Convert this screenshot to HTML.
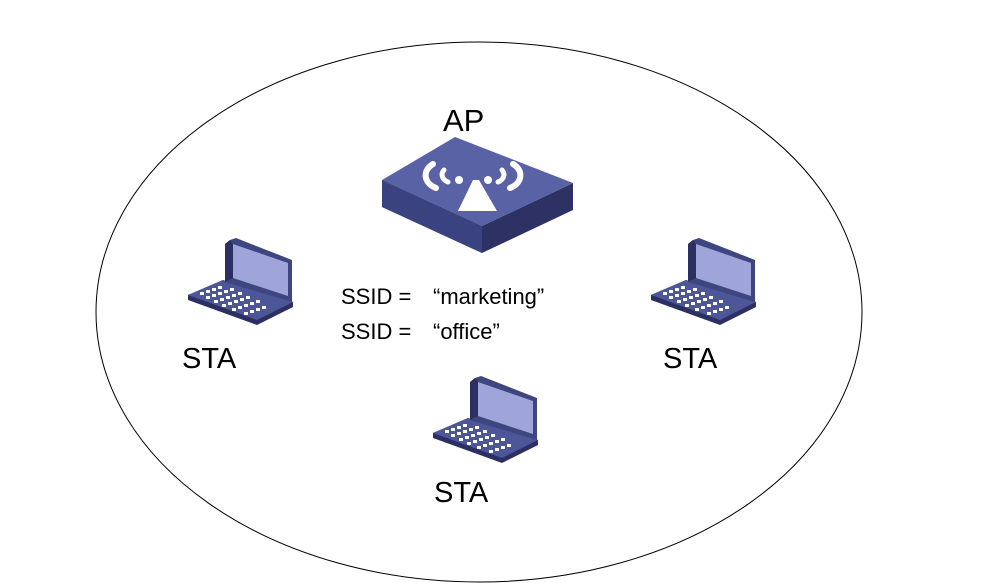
<!DOCTYPE html>
<html><head><meta charset="utf-8"><style>
html,body{margin:0;padding:0;background:#fff;width:991px;height:588px;overflow:hidden}
svg{display:block}
text{font-family:"Liberation Sans",Arial,sans-serif;fill:#000}
</style></head><body>
<svg width="991" height="588" viewBox="0 0 991 588">
<defs>
<g id="lap">
  <polygon points="8,65 43,50 113,72 113,77 77,95 8,70" fill="#2b2f62"/>
  <polygon points="8,65 43,50 113,72 77,90" fill="#4d5699"/>
  <polygon points="50,10 56,8 112,30 112,72 45,52 45,14" fill="#3e467f"/>
  <polygon points="53,14 108,33 108,66 53,48" fill="#9fa5d9"/>
  <polygon points="50,10 53,14 53,48 45,52 45,14" fill="#2b2f62"/>
  <g fill="#fff">
    <rect x="20" y="62" width="4" height="3"/><rect x="26" y="60" width="4" height="3"/><rect x="32" y="58" width="4" height="3"/><rect x="38" y="56" width="4" height="3"/>
    <rect x="26" y="66" width="4" height="3"/><rect x="32" y="64" width="4" height="3"/><rect x="38" y="62" width="4" height="3"/><rect x="44" y="60" width="4" height="3"/><rect x="50" y="58" width="4" height="3"/>
    <rect x="34" y="70" width="4" height="3"/><rect x="40" y="68" width="4" height="3"/><rect x="46" y="66" width="4" height="3"/><rect x="52" y="64" width="4" height="3"/><rect x="58" y="62" width="4" height="3"/>
    <rect x="42" y="74" width="4" height="3"/><rect x="48" y="72" width="4" height="3"/><rect x="54" y="70" width="4" height="3"/><rect x="60" y="68" width="4" height="3"/><rect x="66" y="66" width="4" height="3"/>
    <rect x="52" y="78" width="4" height="3"/><rect x="58" y="76" width="4" height="3"/><rect x="64" y="74" width="4" height="3"/><rect x="70" y="72" width="4" height="3"/><rect x="76" y="70" width="4" height="3"/>
    <rect x="64" y="82" width="4" height="3"/><rect x="70" y="80" width="4" height="3"/><rect x="76" y="78" width="4" height="3"/><rect x="82" y="76" width="4" height="3"/>
  </g>
</g>
</defs>
<ellipse cx="479" cy="312" rx="383" ry="270" fill="none" stroke="#000" stroke-width="1"/>
<polygon points="382,180 482,226 573,183 573,210 482,253 382,207" fill="#2d3163"/>
<polygon points="382,180 482,226 482,253 382,207" fill="#3b4280"/>
<polygon points="382,180 455,137 573,183 482,226" fill="#5862a5"/>
<g fill="none" stroke="#fff" stroke-linecap="round">
  <path d="M444,170 a10,8 0 0 0 4,12" stroke-width="5"/>
  <path d="M433,164 a18,14 0 0 0 3,24" stroke-width="6"/>
  <path d="M502,170 a10,8 0 0 1 -4,12" stroke-width="5"/>
  <path d="M513,164 a18,14 0 0 1 -3,24" stroke-width="6"/>
</g>
<circle cx="459" cy="180" r="4" fill="#fff"/><circle cx="488" cy="180" r="4" fill="#fff"/>
<polygon points="473,180 458,211 497,211 479,180" fill="#fff"/>
<text x="443" y="131" font-size="31">AP</text>
<use href="#lap" x="180" y="230"/>
<use href="#lap" x="643" y="230"/>
<use href="#lap" x="425" y="368"/>
<text x="182" y="368" font-size="29">STA</text>
<text x="663" y="368" font-size="29">STA</text>
<text x="434" y="502" font-size="29">STA</text>
<text x="341" y="304" font-size="22">SSID =</text>
<text x="433" y="304" font-size="22">“marketing”</text>
<text x="341" y="339" font-size="22">SSID =</text>
<text x="433" y="339" font-size="22">“office”</text>
</svg>
</body></html>
